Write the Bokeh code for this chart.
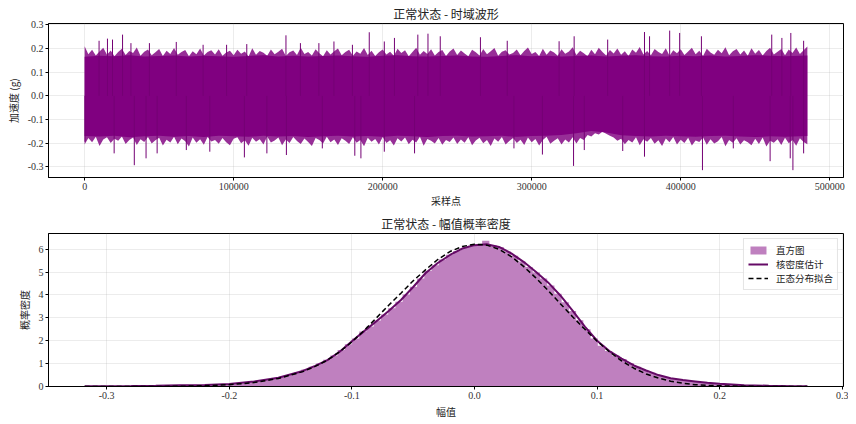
from bokeh.plotting import figure
from bokeh.models import Range1d, FixedTicker, PrintfTickFormatter, Legend, LegendItem
from bokeh.layouts import column
from bokeh.embed import file_html
from bokeh.resources import INLINE
import numpy as np

# ---------------- data: waveform ----------------
n_samples = 485000
env_step = 2500
env_hi = [0.210, 0.176, 0.195, 0.171, 0.188, 0.203, 0.174, 0.192, 0.168, 0.186, 0.199, 0.173, 0.190, 0.181, 0.205, 0.170, 0.187, 0.196, 0.172, 0.184,
          0.198, 0.169, 0.191, 0.177, 0.202, 0.174, 0.185, 0.194, 0.168, 0.189, 0.176, 0.200, 0.171, 0.186, 0.193, 0.175, 0.197, 0.170, 0.183, 0.191,
          0.172, 0.195, 0.178, 0.188, 0.167, 0.201, 0.174, 0.190, 0.182, 0.170, 0.196, 0.176, 0.187, 0.199, 0.169, 0.184, 0.192, 0.173, 0.204, 0.177,
          0.186, 0.171, 0.197, 0.180, 0.168, 0.193, 0.175, 0.189, 0.200, 0.172, 0.185, 0.195, 0.170, 0.188, 0.178, 0.202, 0.173, 0.191, 0.169, 0.184,
          0.196, 0.175, 0.187, 0.170, 0.199, 0.181, 0.193, 0.168, 0.186, 0.203, 0.174, 0.190, 0.177, 0.197, 0.171, 0.185, 0.194, 0.169, 0.188, 0.200,
          0.173, 0.192, 0.179, 0.168, 0.195, 0.184, 0.171, 0.198, 0.176, 0.189, 0.202, 0.170, 0.187, 0.193, 0.175, 0.181, 0.196, 0.172, 0.190, 0.205,
          0.177, 0.186, 0.169, 0.199, 0.174, 0.192, 0.183, 0.170, 0.197, 0.178, 0.188, 0.206, 0.173, 0.191, 0.180, 0.168, 0.195, 0.176, 0.203, 0.185,
          0.171, 0.194, 0.179, 0.200, 0.174, 0.189, 0.169, 0.196, 0.182, 0.207, 0.175, 0.190, 0.172, 0.198, 0.185, 0.177, 0.201, 0.170, 0.193, 0.180,
          0.197, 0.173, 0.188, 0.204, 0.176, 0.191, 0.169, 0.199, 0.183, 0.174, 0.195, 0.180, 0.206, 0.172, 0.189, 0.198, 0.175, 0.192, 0.170, 0.201,
          0.178, 0.194, 0.171, 0.190, 0.203, 0.175, 0.187, 0.198, 0.172, 0.196, 0.181, 0.205, 0.177, 0.193, 0.209]
env_lo = [-0.205, -0.178, -0.196, -0.173, -0.212, -0.184, -0.175, -0.199, -0.181, -0.190, -0.172, -0.203, -0.186, -0.176, -0.208, -0.183, -0.195, -0.174, -0.201, -0.188,
          -0.177, -0.210, -0.185, -0.197, -0.173, -0.204, -0.180, -0.192, -0.214, -0.176, -0.198, -0.183, -0.207, -0.174, -0.193, -0.186, -0.202, -0.178, -0.196, -0.209,
          -0.181, -0.175, -0.200, -0.188, -0.211, -0.177, -0.194, -0.183, -0.205, -0.172, -0.197, -0.189, -0.176, -0.209, -0.184, -0.199, -0.174, -0.191, -0.203, -0.180,
          -0.195, -0.212, -0.178, -0.187, -0.201, -0.173, -0.196, -0.184, -0.208, -0.179, -0.190, -0.203, -0.175, -0.198, -0.186, -0.213, -0.177, -0.194, -0.182, -0.206,
          -0.174, -0.199, -0.188, -0.210, -0.179, -0.193, -0.176, -0.204, -0.185, -0.197, -0.173, -0.211, -0.182, -0.190, -0.201, -0.178, -0.207, -0.187, -0.195, -0.176,
          -0.203, -0.184, -0.198, -0.175, -0.209, -0.189, -0.177, -0.200, -0.186, -0.212, -0.180, -0.194, -0.174, -0.205, -0.191, -0.178, -0.199, -0.185, -0.208, -0.176,
          -0.196, -0.182, -0.210, -0.187, -0.173, -0.202, -0.190, -0.179, -0.206, -0.184, -0.197, -0.175, -0.201, -0.178, -0.186, -0.165, -0.172, -0.158, -0.163, -0.152,
          -0.160, -0.168, -0.176, -0.190, -0.181, -0.204, -0.186, -0.197, -0.175, -0.209, -0.183, -0.194, -0.178, -0.202, -0.188, -0.212, -0.180, -0.196, -0.174, -0.206,
          -0.185, -0.199, -0.177, -0.210, -0.189, -0.195, -0.176, -0.207, -0.183, -0.201, -0.192, -0.174, -0.213, -0.186, -0.198, -0.179, -0.205, -0.188, -0.196, -0.209,
          -0.181, -0.203, -0.176, -0.214, -0.190, -0.198, -0.183, -0.208, -0.177, -0.200, -0.187, -0.211, -0.179, -0.195, -0.204]
core_step = 10000
core_hi = [0.165, 0.170, 0.168, 0.172, 0.166, 0.169, 0.171, 0.167, 0.170, 0.168,
           0.165, 0.169, 0.172, 0.167, 0.170, 0.166, 0.169, 0.171, 0.168, 0.165,
           0.170, 0.172, 0.168, 0.166, 0.169, 0.171, 0.167, 0.165, 0.169, 0.172,
           0.168, 0.170, 0.166, 0.169, 0.171, 0.167, 0.170, 0.172, 0.168, 0.166,
           0.170, 0.168, 0.171, 0.167, 0.169, 0.172, 0.170, 0.168, 0.171]
core_lo = [-0.170, -0.172, -0.168, -0.175, -0.171, -0.169, -0.173, -0.170, -0.174, -0.168,
           -0.171, -0.173, -0.169, -0.172, -0.170, -0.174, -0.171, -0.168, -0.172, -0.170,
           -0.173, -0.169, -0.171, -0.174, -0.170, -0.168, -0.172, -0.171, -0.169, -0.173,
           -0.170, -0.168, -0.165, -0.158, -0.148, -0.155, -0.166, -0.170, -0.172, -0.169,
           -0.171, -0.173, -0.170, -0.168, -0.172, -0.174, -0.171, -0.173, -0.170]
spike_up_x = [9685, 15315, 18700, 25450, 31080, 43470, 61490, 79500, 95270, 108800,
              135100, 144800, 157200, 167300, 179700, 191000, 201100, 207900, 223600, 230400,
              238650, 265600, 283600, 318400, 328500, 351000, 375700, 379100, 392600, 399300,
              413900, 461100, 467900, 473900, 482500]
spike_up_y = [0.233, 0.242, 0.238, 0.259, 0.223, 0.223, 0.228, 0.216, 0.216, 0.219,
              0.256, 0.223, 0.223, 0.230, 0.216, 0.269, 0.230, 0.245, 0.259, 0.263,
              0.252, 0.248, 0.233, 0.231, 0.252, 0.238, 0.270, 0.252, 0.276, 0.266,
              0.252, 0.259, 0.245, 0.266, 0.233]
spike_dn_x = [225, 19800, 33330, 41220, 48650, 68240, 84000, 107200, 122300, 135400,
              159500, 181300, 185400, 201100, 221400, 288100, 307200, 328100, 335300, 361100,
              375700, 414600, 435300, 460000, 473500, 475300, 482500]
spike_dn_y = [-0.194, -0.243, -0.293, -0.264, -0.243, -0.229, -0.236, -0.260, -0.243, -0.250,
              -0.222, -0.253, -0.264, -0.236, -0.243, -0.222, -0.248, -0.296, -0.229, -0.233,
              -0.257, -0.314, -0.222, -0.276, -0.264, -0.314, -0.243]

# ---------------- data: amplitude density ----------------
hist_lo, hist_hi = -0.318, 0.2715
hist_density = [
    0.005, 0.0, 0.0, 0.005, 0.0, 0.005, 0.01, 0.005, 0.01, 0.01,
    0.015, 0.02, 0.02, 0.03, 0.03, 0.04, 0.05, 0.06, 0.08, 0.09,
    0.12, 0.14, 0.18, 0.21, 0.26, 0.31, 0.36, 0.45, 0.52, 0.62,
    0.74, 0.86, 1.00, 1.17, 1.36, 1.60, 1.85, 2.10, 2.40, 2.62,
    2.88, 3.15, 3.42, 3.70, 4.02, 4.36, 4.72, 5.05, 5.30, 5.55,
    5.76, 5.92, 6.06, 6.15, 6.22, 6.37, 6.18, 6.10, 5.90, 5.72,
    5.46, 5.22, 4.98, 4.72, 4.42, 4.05, 3.68, 3.30, 2.90, 2.50,
    2.10, 1.78, 1.55, 1.35, 1.20, 1.02, 0.86, 0.72, 0.60, 0.50,
    0.41, 0.34, 0.30, 0.26, 0.22, 0.18, 0.15, 0.12, 0.11, 0.09,
    0.07, 0.06, 0.05, 0.04, 0.03, 0.025, 0.02, 0.015, 0.01, 0.01]
curve_x = [-0.318, -0.30, -0.28, -0.26, -0.24, -0.22, -0.20, -0.18, -0.16, -0.14,
           -0.13, -0.12, -0.11, -0.10, -0.09, -0.08, -0.07, -0.06, -0.05, -0.04,
           -0.03, -0.02, -0.01, 0.0, 0.01, 0.02, 0.03, 0.04, 0.05, 0.06,
           0.07, 0.08, 0.09, 0.10, 0.11, 0.12, 0.13, 0.14, 0.15, 0.16,
           0.17, 0.18, 0.19, 0.20, 0.22, 0.24, 0.26, 0.2715]
kde_y = [0.01, 0.015, 0.02, 0.03, 0.05, 0.07, 0.11, 0.22, 0.38, 0.68,
         0.90, 1.15, 1.52, 1.98, 2.42, 2.85, 3.30, 3.78, 4.35, 4.95,
         5.40, 5.75, 6.03, 6.18, 6.22, 6.10, 5.82, 5.45, 5.02, 4.55,
         3.98, 3.32, 2.62, 2.00, 1.55, 1.22, 0.92, 0.70, 0.50, 0.36,
         0.28, 0.22, 0.16, 0.12, 0.06, 0.03, 0.015, 0.01]
norm_y = [0.0, 0.0, 0.0, 0.0, 0.01, 0.03, 0.08, 0.17, 0.35, 0.65,
          0.88, 1.15, 1.52, 1.95, 2.45, 3.0, 3.55, 4.08, 4.62, 5.1,
          5.55, 5.9, 6.12, 6.22, 6.18, 6.0, 5.68, 5.25, 4.75, 4.2,
          3.62, 3.05, 2.5, 1.98, 1.52, 1.12, 0.8, 0.55, 0.37, 0.23,
          0.14, 0.08, 0.05, 0.03, 0.01, 0.0, 0.0, 0.0]

wave_ticks = [0, 100000, 200000, 300000, 400000, 500000]
wave_yticks = [-0.3, -0.2, -0.1, 0.0, 0.1, 0.2, 0.3]
amp_ticks = [-0.3, -0.2, -0.1, 0.0, 0.1, 0.2, 0.3]
dens_ticks = [0, 1, 2, 3, 4, 5, 6]

CJK = "Noto Sans CJK SC"
NUM = "Liberation Serif"
PURPLE = "#800080"


def style(p):
    p.outline_line_color = "black"
    p.outline_line_width = 1
    p.outline_line_alpha = 1
    p.background_fill_color = "white"
    p.border_fill_color = "white"
    p.title.align = "center"
    p.title.text_font = CJK
    p.title.text_font_size = "12px"
    p.title.text_font_style = "normal"
    p.title.text_color = "#222222"
    p.title.standoff = 4
    for ax in p.axis:
        ax.axis_line_color = "black"
        ax.major_tick_out = 3
        ax.major_tick_in = 0
        ax.minor_tick_out = 0
        ax.minor_tick_in = 0
        ax.major_tick_line_color = "black"
        ax.major_label_text_font = NUM
        ax.major_label_text_font_size = "10px"
        ax.major_label_text_color = "#333333"
        ax.major_label_standoff = 2
        ax.axis_label_text_font = CJK
        ax.axis_label_text_font_size = "10px"
        ax.axis_label_text_font_style = "normal"
        ax.axis_label_text_color = "#222222"
        ax.axis_label_standoff = 0
    p.yaxis.axis_label_standoff = 4
    p.grid.grid_line_color = "#b0b0b0"
    p.grid.grid_line_alpha = 0.3
    p.grid.grid_line_width = 0.8


# ---------------- top: waveform ----------------
p1 = figure(width=848, height=210, output_backend="svg", toolbar_location=None,
            x_range=Range1d(-0.05 * n_samples, 1.05 * n_samples),
            y_range=Range1d(-0.345, 0.306),
            title="正常状态 - 时域波形",
            min_border_left=48, min_border_right=5, min_border_top=0, min_border_bottom=0)
p1.xaxis.axis_label = "采样点"
p1.yaxis.axis_label = "加速度 (g)"
p1.xaxis.ticker = FixedTicker(ticks=wave_ticks)
p1.yaxis.ticker = FixedTicker(ticks=wave_yticks)
p1.xaxis.formatter = PrintfTickFormatter(format="%d")
p1.yaxis.formatter = PrintfTickFormatter(format="%.1f")
style(p1)

env_x = [i * env_step for i in range(len(env_hi))]
core_x = [i * core_step for i in range(len(core_hi) - 1)] + [n_samples]
p1.varea(x=env_x, y1=env_lo, y2=env_hi, fill_color=PURPLE, fill_alpha=0.82)
p1.varea(x=core_x, y1=core_lo, y2=core_hi, fill_color=PURPLE, fill_alpha=1.0)
p1.segment(x0=spike_up_x, y0=[0] * len(spike_up_x), x1=spike_up_x, y1=spike_up_y,
           line_color="#740074", line_width=1)
p1.segment(x0=spike_dn_x, y0=[0] * len(spike_dn_x), x1=spike_dn_x, y1=spike_dn_y,
           line_color="#740074", line_width=1)

# ---------------- bottom: density ----------------
edges = np.linspace(hist_lo, hist_hi, len(hist_density) + 1)
pad = 0.05 * (hist_hi - hist_lo)
p2 = figure(width=848, height=211, output_backend="svg", toolbar_location=None,
            x_range=Range1d(hist_lo - pad, hist_hi + pad),
            y_range=Range1d(0, 1.05 * max(hist_density)),
            title="正常状态 - 幅值概率密度",
            min_border_left=48, min_border_right=5, min_border_top=0, min_border_bottom=0)
p2.xaxis.axis_label = "幅值"
p2.yaxis.axis_label = "概率密度"
p2.xaxis.ticker = FixedTicker(ticks=amp_ticks)
p2.yaxis.ticker = FixedTicker(ticks=dens_ticks)
p2.xaxis.formatter = PrintfTickFormatter(format="%.1f")
p2.yaxis.formatter = PrintfTickFormatter(format="%d")
style(p2)
p2.xaxis.axis_label_standoff = 2

step_top = list(hist_density) + [hist_density[-1]]
r_hist = p2.varea_step(x=list(edges), y1=[0] * len(edges), y2=step_top, step_mode="after",
                       fill_color="#bf80bf", fill_alpha=1.0)
r_kde = p2.line(curve_x, kde_y, line_color="#650a66", line_width=2)
r_norm = p2.line(curve_x, norm_y, line_color="black", line_width=1.5, line_dash="5 3")

legend = Legend(items=[LegendItem(label="直方图", renderers=[r_hist]),
                       LegendItem(label="核密度估计", renderers=[r_kde]),
                       LegendItem(label="正态分布拟合", renderers=[r_norm])],
                location="top_right")
legend.label_text_font = CJK
legend.label_text_font_size = "9.5px"
legend.label_text_color = "#222222"
legend.label_height = 10
legend.glyph_height = 10
legend.glyph_width = 20
legend.label_standoff = 8
legend.spacing = 0
legend.padding = 4
legend.margin = 5
legend.border_line_color = "#cccccc"
legend.border_line_width = 1
legend.background_fill_alpha = 0.8
p2.add_layout(legend)

layout = column(p1, p2, spacing=0)
open("out.html", "w").write(file_html(layout, INLINE))
